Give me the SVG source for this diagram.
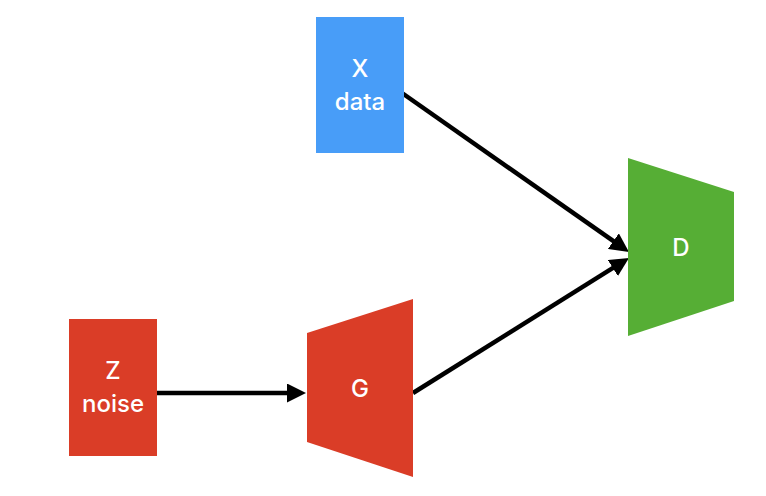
<svg xmlns="http://www.w3.org/2000/svg" width="766" height="496" viewBox="0 0 766 496">
  <style>
    .lbl { font-family: Inter, "Liberation Sans", sans-serif; font-size: 24px; fill: #ffffff; text-anchor: middle; font-weight: 500; }
    .conn { stroke: #000000; stroke-width: 4.5; fill: none; }
  </style>
  <defs>
    <marker id="arrow" viewBox="0 0 19 19" markerWidth="19" markerHeight="19" markerUnits="userSpaceOnUse" refX="11" refY="9.5" orient="auto">
      <path d="M0,0 L19,9.5 L0,19 z" fill="#000000"/>
    </marker>
  </defs>
  <rect width="766" height="496" fill="#ffffff"/>
  <g id="connectors">
    <line class="conn" x1="157" y1="393" x2="298" y2="393" marker-end="url(#arrow)"/>
    <line class="conn" x1="402" y1="93" x2="622.4" y2="247.4" marker-end="url(#arrow)"/>
    <line class="conn" x1="413" y1="393" x2="622.2" y2="262.2" marker-end="url(#arrow)"/>
  </g>
  <g id="node-x">
    <rect x="316" y="17" width="88" height="136" fill="#489DF8"/>
    <text class="lbl" x="360" y="77">X</text>
    <text class="lbl" x="360" y="110">data</text>
  </g>
  <g id="node-z">
    <rect x="69" y="319" width="88" height="137" fill="#DA3D27"/>
    <text class="lbl" x="113" y="379">Z</text>
    <text class="lbl" x="113" y="412">noise</text>
  </g>
  <g id="node-g">
    <polygon points="307,333 413,299 413,477 307,442" fill="#DA3D27"/>
    <text class="lbl" x="360" y="397">G</text>
  </g>
  <g id="node-d">
    <polygon points="628,158 734,192 734,301 628,336" fill="#56AE35"/>
    <text class="lbl" x="681" y="256">D</text>
  </g>
</svg>
